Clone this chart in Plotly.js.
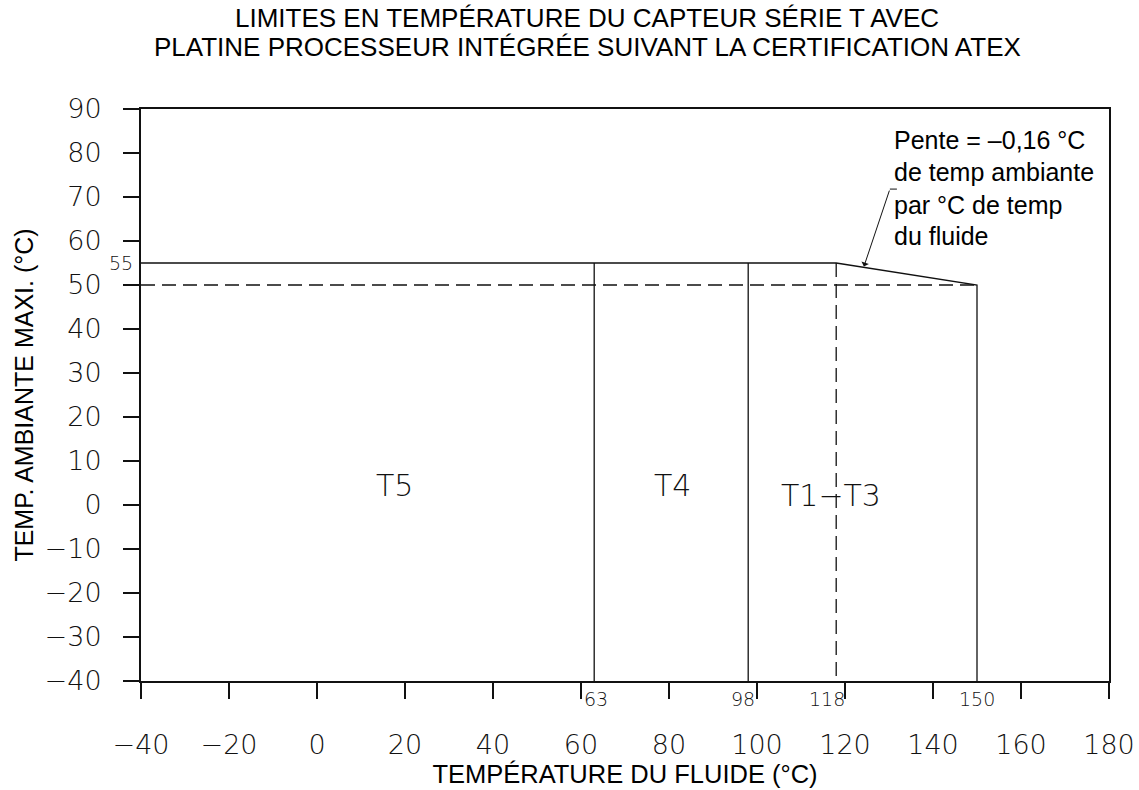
<!DOCTYPE html>
<html>
<head>
<meta charset="utf-8">
<script src="https://cdn.plot.ly/plotly-3.0.1.min.js"></script>
<style>html,body{margin:0;padding:0;background:#fff;}#chart{width:1139px;height:790px;}</style>
</head>
<body>
<div id="chart"></div>
<script>
// ---- Data ----
// upper limit: flat 55 °C until 118 °C fluid, then slope down to 50 °C at 150 °C
var limitX = [-40, 118, 150, 150];
var limitY = [55, 55, 50, -40];
// zone boundaries (solid verticals)
var t5EdgeX = [63, 63];
var t5EdgeY = [55, -40];
var t4EdgeX = [98, 98];
var t4EdgeY = [55, -40];
// dashed references
var dash50X = [-40, 150];
var dash50Y = [50, 50];
var dash118X = [118, 118];
var dash118Y = [55, -40];
// leader line for the slope note
var leaderX = [131.8, 130.2];
var leaderY = [71.8, 71.8];
var arrowTail = [130.2, 71.8];
var arrowHead = [124.3, 54.2];

var xTicks = [-40, -20, 0, 20, 40, 60, 80, 100, 120, 140, 160, 180];
var yTicks = [-40, -30, -20, -10, 0, 10, 20, 30, 40, 50, 60, 70, 80, 90];
var xMarks = [63, 98, 118, 150];
var xMarkText = ['63', '98', '118', '150'];
var xMarkShift = [2, -5, -9, 0];
var zoneNames = ['T5', 'T4', 'T1\u2212T3'];
var zoneX = [17.5, 80.9, 116.8];
var zoneY = [4.4, 4.4, 2.1];
var noteLines = ['Pente = \u20130,16 \u00b0C', 'de temp ambiante', 'par \u00b0C de temp', 'du fluide'];
var noteY = [83.0, 75.7, 68.2, 61.2];
var noteX = 130.7;

var titleLines = ['LIMITES EN TEMPÉRATURE DU CAPTEUR SÉRIE T AVEC',
                  'PLATINE PROCESSEUR INTÉGRÉE SUIVANT LA CERTIFICATION ATEX'];
var xTitle = 'TEMPÉRATURE DU FLUIDE (°C)';
var yTitle = 'TEMP. AMBIANTE MAXI. (°C)';

var cadFam = 'DejaVu Sans';
var cad = {family: cadFam, size: 27, color: '#111', weight: 200};
var cadSmall = {family: cadFam, size: 19, color: '#111', weight: 200};
var sans = 'Liberation Sans, Arial, sans-serif';
var lineC = '#111';

function seg(x, y, dash, w) {
  return {x: x, y: y, type: 'scatter', mode: 'lines', hoverinfo: 'skip',
          line: {color: lineC, width: w || 1.3, dash: dash || 'solid'}, cliponaxis: false};
}

var traces = [
  seg(limitX, limitY),
  seg(t5EdgeX, t5EdgeY),
  seg(t4EdgeX, t4EdgeY),
  seg(dash50X, dash50Y, '14px,7px'),
  seg(dash118X, dash118Y, '14px,7px'),
  seg(leaderX, leaderY, null, 1)
];

var annotations = [];
// title lines
var titleYpx = [18, 47];
for (var t = 0; t < titleLines.length; t++) {
  annotations.push({x: (587 - 141) / 968, y: 1 + (109 - titleYpx[t]) / 572, xref: 'paper', yref: 'paper',
    xanchor: 'center', yanchor: 'middle', text: titleLines[t], showarrow: false,
    font: {family: sans, size: 26, color: '#000'}});
}
// 55 label
annotations.push({x: -40, y: 55, xref: 'x', yref: 'y', text: '55', showarrow: false,
  xanchor: 'right', yanchor: 'middle', xshift: -6,
  font: cadSmall});
// x marks under axis
for (var i = 0; i < xMarks.length; i++) {
  annotations.push({x: xMarks[i], y: 0, xref: 'x', yref: 'paper', text: xMarkText[i], showarrow: false,
    xanchor: 'center', yanchor: 'middle', xshift: xMarkShift[i], yshift: -18,
    font: cadSmall});
}
// zone labels
for (var j = 0; j < zoneNames.length; j++) {
  annotations.push({x: zoneX[j], y: zoneY[j], xref: 'x', yref: 'y', text: zoneNames[j], showarrow: false,
    font: {family: cadFam, size: 30, color: '#111', weight: 200}});
}
// note text
for (var k = 0; k < noteLines.length; k++) {
  annotations.push({x: noteX, y: noteY[k], xref: 'x', yref: 'y', text: noteLines[k], showarrow: false,
    xanchor: 'left', yanchor: 'middle', font: {family: sans, size: 25, color: '#000'}});
}
// arrow
annotations.push({x: arrowHead[0], y: arrowHead[1], xref: 'x', yref: 'y',
  ax: arrowTail[0], ay: arrowTail[1], axref: 'x', ayref: 'y', text: '', showarrow: true,
  arrowhead: 1, arrowsize: 1.3, arrowwidth: 1, arrowcolor: '#111'});

var layout = {
  width: 1139, height: 790,
  margin: {l: 141, r: 30, t: 109, b: 109},
  paper_bgcolor: '#fff', plot_bgcolor: '#fff',
  showlegend: false,
  xaxis: {range: [-40, 180], tickvals: xTicks, ticks: 'outside', ticklen: 16, tickwidth: 1.3, tickcolor: lineC,
          showline: true, linecolor: lineC, linewidth: 2, mirror: true, showgrid: false, zeroline: false,
          tickfont: cad, ticklabelstandoff: 23,
          title: {text: xTitle, font: {family: sans, size: 25.5, color: '#000'}, standoff: 6}},
  yaxis: {range: [-40, 90], tickvals: yTicks, ticks: 'outside', ticklen: 16, tickwidth: 1.3, tickcolor: lineC,
          showline: true, linecolor: lineC, linewidth: 2, mirror: true, showgrid: false, zeroline: false,
          tickfont: cad, ticklabelstandoff: 16,
          title: {text: yTitle, font: {family: sans, size: 25, color: '#000'}, standoff: 4}},
  annotations: annotations
};

Plotly.newPlot('chart', traces, layout, {displayModeBar: false, staticPlot: true});
</script>
</body>
</html>
